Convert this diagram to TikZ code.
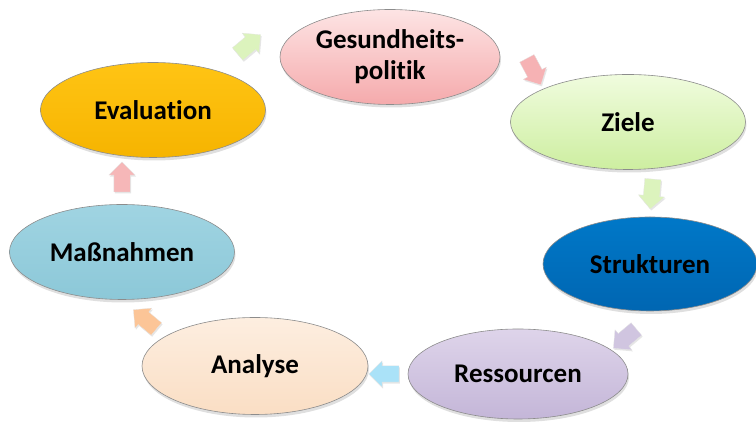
\documentclass[tikz,border=0pt]{standalone}
\usepackage{fontspec}
\setmainfont{Carlito}[Ligatures=NoCommon]
\usetikzlibrary{shapes.geometric,shapes.arrows,shadows}
\definecolor{gpink}{RGB}{245,170,172}
\definecolor{gpinklt}{RGB}{253,228,228}
\definecolor{zgreen}{RGB}{205,238,160}
\definecolor{zgreenlt}{RGB}{240,252,222}
\definecolor{sblue}{RGB}{0,102,178}
\definecolor{sbluelt}{RGB}{0,120,200}
\definecolor{rlila}{RGB}{196,182,216}
\definecolor{rlilalt}{RGB}{222,212,234}
\definecolor{apeach}{RGB}{250,222,196}
\definecolor{apeachlt}{RGB}{253,238,224}
\definecolor{mblue}{RGB}{140,200,216}
\definecolor{mbluelt}{RGB}{160,212,226}
\definecolor{eorange}{RGB}{246,180,0}
\definecolor{eorangelt}{RGB}{255,196,20}
\definecolor{acyan}{RGB}{170,226,248}
\definecolor{aorange}{RGB}{252,190,140}
\tikzset{
  stage/.style={ellipse,draw=black!45,line width=0.6pt,font=\bfseries\fontsize{27}{31}\selectfont,
    align=center,inner sep=0pt,drop shadow={opacity=0.25,shadow xshift=1pt,shadow yshift=-3pt}},
  cyc/.style={single arrow,minimum height=30pt,inner sep=8pt,single arrow head extend=5pt,
    draw=black!10,line width=0.3pt,drop shadow={opacity=0.2,shadow xshift=1pt,shadow yshift=-1.5pt}}
}
\begin{document}
\begin{tikzpicture}[x=1pt,y=1pt,line join=round,line cap=round]
    \useasboundingbox (0,0) rectangle (756,422);
    % stages of the cycle
    \node[stage,minimum width=220pt,minimum height=95pt,top color=gpinklt,bottom color=gpink] (gp) at (390,365) {Gesundheits-\\politik};
    \node[stage,minimum width=235pt,minimum height=95pt,top color=zgreenlt,bottom color=zgreen] (ziele) at (628,300) {Ziele};
    \node[stage,minimum width=214pt,minimum height=94pt,top color=sbluelt,bottom color=sblue] (strukt) at (650,158) {Strukturen};
    \node[stage,minimum width=220pt,minimum height=90pt,top color=rlilalt,bottom color=rlila] (ress) at (518,48) {Ressourcen};
    \node[stage,minimum width=226pt,minimum height=97pt,top color=apeachlt,bottom color=apeach] (ana) at (255,56) {Analyse};
    \node[stage,minimum width=225pt,minimum height=95pt,top color=mbluelt,bottom color=mblue] (mass) at (122,170) {Maßnahmen};
    \node[stage,minimum width=225pt,minimum height=95pt,top color=eorangelt,bottom color=eorange] (eval) at (153,312) {Evaluation};
    % arrows between them
    \node[cyc,rotate=40,fill=zgreen!70] (a1) at (246,375) {};
    \node[cyc,rotate=-62,fill=gpink!90] (a2) at (532,354) {};
    \node[cyc,rotate=-95,fill=zgreen!70] (a3) at (652,232) {};
    \node[cyc,rotate=-140,fill=rlila!80] (a4) at (628,86) {};
    \node[cyc,rotate=180,fill=acyan] (a5) at (388,48) {};
    \node[cyc,rotate=140,fill=aorange!90] (a6) at (148,100) {};
    \node[cyc,rotate=90,fill=gpink!85] (a7) at (122,241) {};
\end{tikzpicture}
\end{document}
